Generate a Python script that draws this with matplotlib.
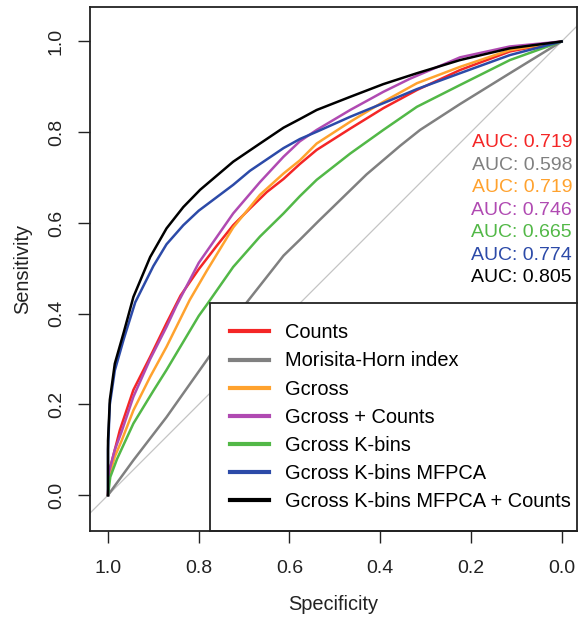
import matplotlib
matplotlib.use("Agg")
import matplotlib.pyplot as plt
from matplotlib.lines import Line2D

plt.rcParams['font.family'] = ['Liberation Sans', 'DejaVu Sans']

labels = ["Counts", "Morisita-Horn index", "Gcross", "Gcross + Counts",
          "Gcross K-bins", "Gcross K-bins MFPCA", "Gcross K-bins MFPCA + Counts"]
colors = ["#F42626", "#808080", "#FFA22E", "#B04AB2", "#52B847", "#2C4AA8", "#000000"]
auc = [0.719, 0.598, 0.719, 0.746, 0.665, 0.774, 0.805]

x_ticks = [1.0, 0.8, 0.6, 0.4, 0.2, 0.0]
y_ticks = [0.0, 0.2, 0.4, 0.6, 0.8, 1.0]

# ROC curves (specificity, sensitivity)
counts_spec = [1.0, 0.998, 0.985, 0.974, 0.944, 0.907, 0.871, 0.84, 0.8, 0.76, 0.724, 0.687, 0.65, 0.613, 0.577, 0.54, 0.466, 0.393, 0.319, 0.224, 0.114, 0.0]
counts_sens = [0.0, 0.05, 0.10, 0.143, 0.232, 0.305, 0.379, 0.44, 0.498, 0.55, 0.595, 0.632, 0.668, 0.697, 0.73, 0.761, 0.808, 0.853, 0.893, 0.937, 0.978, 1.0]

mh_spec = [1.0, 0.944, 0.871, 0.782, 0.694, 0.613, 0.577, 0.536, 0.503, 0.43, 0.356, 0.312, 0.224, 0.114, 0.0]
mh_sens = [0.0, 0.077, 0.172, 0.298, 0.425, 0.528, 0.563, 0.604, 0.636, 0.707, 0.77, 0.805, 0.862, 0.93, 1.0]

gcross_spec = [1.0, 0.998, 0.985, 0.97, 0.944, 0.907, 0.871, 0.82, 0.782, 0.724, 0.687, 0.665, 0.613, 0.577, 0.54, 0.466, 0.393, 0.319, 0.224, 0.114, 0.0]
gcross_sens = [0.0, 0.04, 0.085, 0.12, 0.187, 0.261, 0.327, 0.43, 0.495, 0.59, 0.635, 0.662, 0.709, 0.738, 0.775, 0.823, 0.867, 0.908, 0.944, 0.981, 1.0]

gc_counts_spec = [1.0, 0.998, 0.985, 0.97, 0.944, 0.907, 0.871, 0.849, 0.8, 0.724, 0.665, 0.613, 0.577, 0.54, 0.466, 0.393, 0.334, 0.224, 0.114, 0.0]
gc_counts_sens = [0.0, 0.05, 0.10, 0.14, 0.217, 0.30, 0.371, 0.418, 0.512, 0.621, 0.69, 0.746, 0.78, 0.805, 0.849, 0.889, 0.918, 0.965, 0.989, 1.0]

kbins_spec = [1.0, 0.995, 0.98, 0.944, 0.9, 0.871, 0.8, 0.782, 0.724, 0.665, 0.613, 0.577, 0.54, 0.466, 0.393, 0.319, 0.224, 0.114, 0.0]
kbins_sens = [0.0, 0.04, 0.08, 0.158, 0.23, 0.276, 0.395, 0.42, 0.503, 0.57, 0.621, 0.659, 0.695, 0.753, 0.805, 0.856, 0.904, 0.959, 1.0]

mfpca_spec = [1.0, 1.0, 0.996, 0.985, 0.965, 0.94, 0.9, 0.871, 0.834, 0.8, 0.724, 0.687, 0.613, 0.577, 0.54, 0.466, 0.393, 0.319, 0.224, 0.114, 0.0]
mfpca_sens = [0.0, 0.10, 0.20, 0.275, 0.345, 0.425, 0.505, 0.553, 0.595, 0.627, 0.684, 0.715, 0.765, 0.785, 0.801, 0.834, 0.864, 0.895, 0.93, 0.97, 1.0]

mfpca_counts_spec = [1.0, 1.0, 0.996, 0.985, 0.965, 0.944, 0.907, 0.871, 0.834, 0.797, 0.724, 0.665, 0.613, 0.577, 0.54, 0.466, 0.393, 0.319, 0.224, 0.114, 0.0]
mfpca_counts_sens = [0.0, 0.12, 0.21, 0.29, 0.36, 0.437, 0.525, 0.588, 0.635, 0.673, 0.735, 0.775, 0.81, 0.829, 0.849, 0.878, 0.906, 0.93, 0.959, 0.985, 1.0]

curves = [(counts_spec, counts_sens), (mh_spec, mh_sens), (gcross_spec, gcross_sens),
          (gc_counts_spec, gc_counts_sens), (kbins_spec, kbins_sens),
          (mfpca_spec, mfpca_sens), (mfpca_counts_spec, mfpca_counts_sens)]

W, H = 578, 621
fig = plt.figure(figsize=(W / 100, H / 100), dpi=100)
ax = fig.add_axes([90 / W, 1 - 531 / H, 487 / W, 524 / H])
ax.set_xlim(1.0397, -0.034)
ax.set_ylim(-0.079, 1.076)

ax.axline((1, 0), (0, 1), color="#C4C4C4", lw=0.9, zorder=1)

for (sx, sy), c in zip(curves, colors):
    ax.plot(sx, sy, color=c, lw=1.8, zorder=1.5, solid_joinstyle='round')

ink = '#222222'
ax.set_xticks(x_ticks)
ax.set_xticklabels([f"{v:.1f}" for v in x_ticks])
ax.set_yticks(y_ticks)
ax.set_yticklabels([f"{v:.1f}" for v in y_ticks], rotation=90, va='center')
ax.tick_params(length=8.6, width=1.0, labelsize=14, colors=ink)
ax.tick_params(axis='x', pad=12)
ax.tick_params(axis='y', pad=9.5)
for s in ax.spines.values():
    s.set_linewidth(1.3)
    s.set_color(ink)

ax.set_xlabel("Specificity", fontsize=14.4, labelpad=13.5, color=ink)
ax.set_ylabel("Sensitivity", fontsize=14.4, labelpad=11, color=ink)

for i, (a, c) in enumerate(zip(auc, colors)):
    ax.text(-0.023, 0.777 - i * 0.0496, f"AUC: {a:.3f}", color=c, ha='right',
            va='center', fontsize=14)

lfs = 14.4
handles = [Line2D([], [], color=c, lw=3) for c in colors]
leg = ax.legend(handles, labels, loc='lower left', bbox_to_anchor=((210 - 90) / 487, 0),
                borderaxespad=0, frameon=True, fancybox=False, edgecolor=ink,
                framealpha=1, fontsize=lfs, handlelength=1.95, handletextpad=0.8,
                labelspacing=0.455, borderpad=1.0)
leg.get_frame().set_linewidth(1.3)
leg.set_zorder(2.2)

fig.savefig("out.png", dpi=100)
